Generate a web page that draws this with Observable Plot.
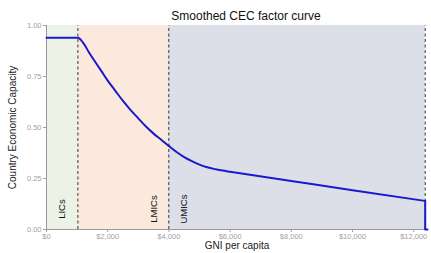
<!DOCTYPE html>
<html>
<head>
<meta charset="utf-8">
<script src="https://cdn.jsdelivr.net/npm/d3@7"></script>
<script src="https://cdn.jsdelivr.net/npm/@observablehq/plot@0.6"></script>
<style>
  body { margin: 0; background: #fff; }
  #chart svg { display: block; }
</style>
</head>
<body>
<div id="chart"></div>
<script>
// Income group bands (GNI per capita thresholds)
const groupNames = ["LICs", "LMICs", "UMICs"];
const groupStart = [0, 1025, 3995];
const groupEnd = [1025, 3995, 12375];
const groupColors = ["#ecf2e5", "#fbe9dd", "#dcdfe8"];
const thresholds = [1025, 3995, 12375];

// Group labels
const labelNames = ["LICs", "LMICs", "UMICs"];
const labelX = [500, 3500, 4480];
const labelY = [0.1, 0.1, 0.1];

// Smoothed CEC factor curve
const gni = [0, 1025, 1200, 1400, 1600, 1800, 2000, 2250, 2500, 2750, 3000, 3250, 3500, 3750, 3995, 4250, 4500, 4750, 5000, 5250, 5500, 5750, 6000, 8000, 10000, 12375];
const cec = [0.94, 0.94, 0.915, 0.865, 0.82, 0.775, 0.73, 0.68, 0.63, 0.585, 0.545, 0.505, 0.47, 0.44, 0.41, 0.38, 0.355, 0.335, 0.318, 0.305, 0.296, 0.289, 0.283, 0.238, 0.192, 0.14];
// Drop to zero after the UMIC threshold
const dropX = [12375, 12375, 12450];
const dropY = [0.14, 0, 0];

const xTicks = [0, 2000, 4000, 6000, 8000, 10000, 12000];
const yTicks = [0, 0.25, 0.5, 0.75, 1];

const bands = groupNames.map((n, i) => ({name: n, x1: groupStart[i], x2: groupEnd[i], color: groupColors[i]}));
const labels = labelNames.map((n, i) => ({name: n, x: labelX[i], y: labelY[i]}));
const curve = gni.map((x, i) => ({x, y: cec[i]}));
const drop = dropX.map((x, i) => ({x, y: dropY[i]}));

const chart = Plot.plot({
  width: 431,
  height: 253,
  marginTop: 25,
  marginBottom: 24,
  marginLeft: 46,
  marginRight: 4,
  style: {fontFamily: "Liberation Sans, Arial, sans-serif", fontSize: "7.5px", color: "#a0a0a0", background: "#fff"},
  x: {domain: [0, 12450], ticks: xTicks, tickFormat: d => "$" + d3.format(",")(d), label: null, tickSize: 3, tickPadding: 1},
  y: {domain: [0, 1], ticks: yTicks, tickFormat: d3.format(".2f"), label: null, tickSize: 3, tickPadding: 2},
  marks: [
    Plot.rectX(bands, {x1: "x1", x2: "x2", y1: 0, y2: 1, fill: d => d.color}),
    Plot.ruleX(thresholds, {y1: 0, y2: 1, stroke: "#555", strokeWidth: 1.2, strokeDasharray: "3,2.5"}),
    Plot.ruleX([0], {y1: 0, y2: 1, stroke: "#999"}),
    Plot.ruleY([0], {stroke: "#999"}),
    Plot.text(labels, {x: "x", y: "y", text: "name", rotate: -90, fill: "#111", fontSize: 9.5}),
    Plot.line(curve, {x: "x", y: "y", curve: "monotone-x", stroke: "#1a1acc", strokeWidth: 2}),
    Plot.line(drop, {x: "x", y: "y", stroke: "#1a1acc", strokeWidth: 2}),
    Plot.text(["Smoothed CEC factor curve"], {frameAnchor: "top", dy: -14, dx: 9, fill: "#111", fontSize: 12}),
    Plot.text(["GNI per capita"], {frameAnchor: "bottom", dy: 19, fill: "#222", fontSize: 10}),
    Plot.text(["Country Economic Capacity"], {frameAnchor: "left", textAnchor: "middle", dx: -34, rotate: -90, fill: "#222", fontSize: 10})
  ]
});
document.getElementById("chart").appendChild(chart);
</script>
</body>
</html>
